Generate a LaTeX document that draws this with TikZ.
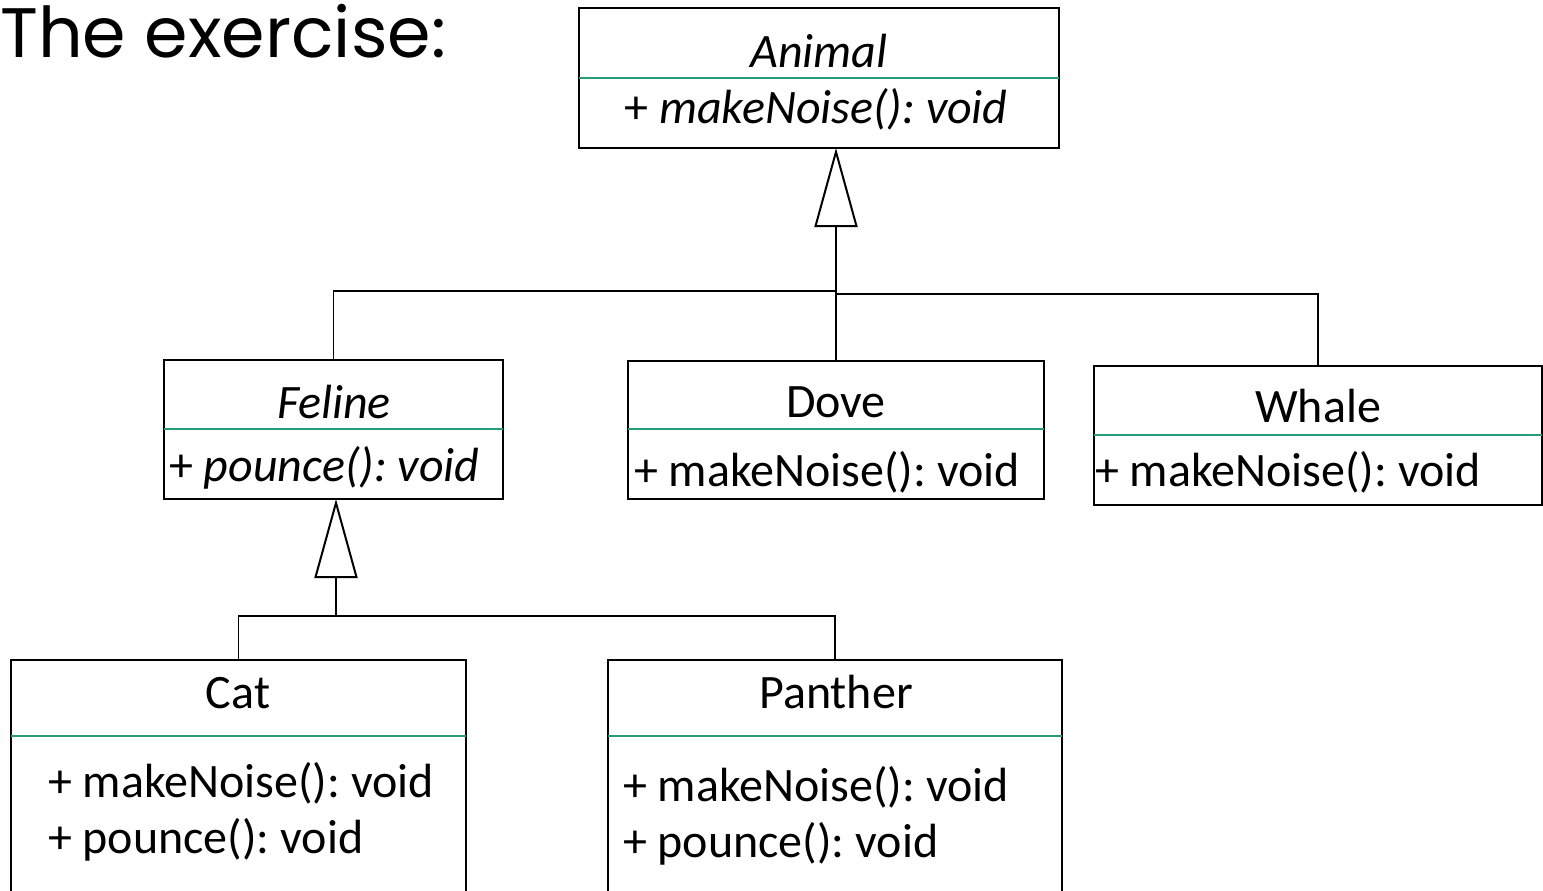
\documentclass[tikz,border=0pt]{standalone}
\usepackage{fontspec}
\setmainfont{Carlito}
\newfontfamily\titlefont{Poppins}
\usetikzlibrary{arrows.meta}
\definecolor{septeal}{RGB}{40,155,125}
\frenchspacing
\begin{document}
\begin{tikzpicture}[x=1pt,y=-1pt,
  umlbox/.style={draw, line width=2pt, inner sep=0pt, outer sep=0pt},
  sepline/.style={draw=septeal, line width=1.2pt},
  lbl/.style={inner sep=0pt, outer sep=0pt, font=\fontsize{48}{56}\selectfont},
  conn/.style={line width=1.3pt},
  gen/.style={conn, -{Triangle[open, length=79pt, width=43pt, line width=2pt]}}
]
\useasboundingbox (0,0) rectangle (1543,891);
\clip (0,0) rectangle (1543,891);

% title
\node[inner sep=0pt, anchor=base west, font=\titlefont\fontsize{70}{78}\selectfont] (title) at (0,58) {The exercise:};

% class boxes
\node[umlbox, minimum width=480pt, minimum height=140pt] (animal) at (819,78) {};
\node[umlbox, minimum width=339pt, minimum height=139pt] (feline) at (333.5,429.5) {};
\node[umlbox, minimum width=416pt, minimum height=138pt] (dove) at (836,430) {};
\node[umlbox, minimum width=448pt, minimum height=139pt] (whale) at (1318,435.5) {};
\node[umlbox, minimum width=455pt, minimum height=260pt] (cat) at (238.5,790) {};
\node[umlbox, minimum width=454pt, minimum height=260pt] (panther) at (835,790) {};

% compartment separators
\draw[sepline] (animal.west |- 0,78) -- (animal.east |- 0,78);
\draw[sepline] (feline.west |- 0,429) -- (feline.east |- 0,429);
\draw[sepline] (dove.west |- 0,429) -- (dove.east |- 0,429);
\draw[sepline] (whale.west |- 0,435) -- (whale.east |- 0,435);
\draw[sepline] (cat.west |- 0,736) -- (cat.east |- 0,736);
\draw[sepline] (panther.west |- 0,736) -- (panther.east |- 0,736);

% names and operations
\node[lbl, anchor=base] (animalName) at (819,67) {\itshape Animal};
\node[lbl, anchor=base] (animalOp) at (816,123) {+ \itshape makeNoise(): void};

\node[lbl, anchor=base] (felineName) at (334,418) {\itshape Feline};
\node[lbl, anchor=base west] (felineOp) at (169,481) {+ \itshape pounce(): void};

\node[lbl, anchor=base] (doveName) at (836,417) {Dove};
\node[lbl, anchor=base west] (doveOp) at (634,486) {+ makeNoise(): void};

\node[lbl, anchor=base] (whaleName) at (1318,422) {Whale};
\node[lbl, anchor=base west] (whaleOp) at (1095,486) {+ makeNoise(): void};

\node[lbl, anchor=base] (catName) at (238,708) {Cat};
\node[lbl, anchor=base west] (catOp1) at (48,797) {+ makeNoise(): void};
\node[lbl, anchor=base west] (catOp2) at (48,853) {+ pounce(): void};

\node[lbl, anchor=base] (pantherName) at (836,708) {Panther};
\node[lbl, anchor=base west] (pantherOp1) at (623,801) {+ makeNoise(): void};
\node[lbl, anchor=base west] (pantherOp2) at (623,857) {+ pounce(): void};

% generalisation: Feline, Dove, Whale -> Animal
\coordinate (jLeft) at (836,291);
\coordinate (jRight) at (836,294);
\draw[conn] (feline.north) |- (jLeft);
\draw[conn] (whale.north) |- (jRight);
\draw[gen] (dove.north) -- (dove.north |- animal.south);

% generalisation: Cat, Panther -> Feline
\coordinate (jFeline) at (336,616);
\draw[conn] (cat.north) |- (jFeline);
\draw[conn] (panther.north) |- (jFeline);
\draw[gen] (jFeline) -- (jFeline |- feline.south);
\end{tikzpicture}
\end{document}
